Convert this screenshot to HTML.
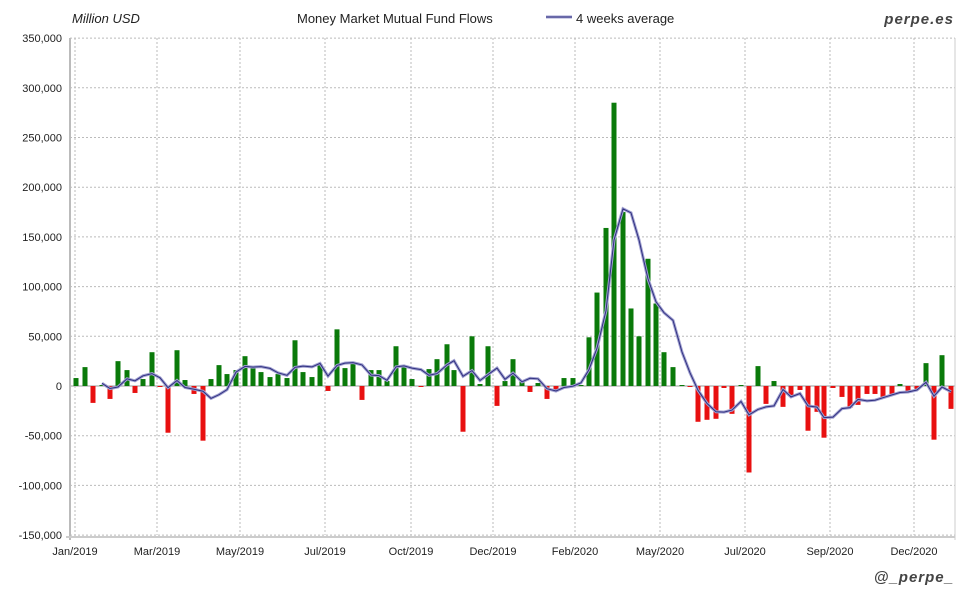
<!DOCTYPE html>
<html><head><meta charset="utf-8"><style>
body{margin:0;background:#fff;}
svg text{font-family:"Liberation Sans",sans-serif;}
</style></head><body>
<svg id="c" width="980" height="600" xmlns="http://www.w3.org/2000/svg">
<rect width="980" height="600" fill="#fff"/>
<text x="72" y="23" font-size="13" font-style="italic" fill="#222">Million USD</text>
<text x="297" y="23" font-size="13" fill="#222">Money Market Mutual Fund Flows</text>
<line x1="546" y1="17" x2="572" y2="17" stroke="#a0a0d0" stroke-width="3"/>
<line x1="546" y1="17" x2="572" y2="17" stroke="#303080" stroke-width="1"/>
<text x="576" y="23" font-size="13" fill="#222">4 weeks average</text>
<text x="954" y="24" font-size="15" font-style="italic" font-weight="bold" fill="#444" text-anchor="end" letter-spacing="1">perpe.es</text>
<text x="954" y="582" font-size="15" font-style="italic" font-weight="bold" fill="#444" text-anchor="end" letter-spacing="1">@_perpe_</text>
<g id="g"></g>
</svg>
<script>
var g=document.getElementById('g'),s='';
function Y(v){return 386-v*0.994;}
for(var v=-150;v<=350;v+=50){var y=Y(v);
 s+='<line x1="70" x2="955" y1="'+y+'" y2="'+y+'" stroke="'+(v==0?'#999':'#bbb')+'" stroke-width="1" '+(v==0?'':'stroke-dasharray="2,2"')+'/>';
 var t=v==0?'0':(v<0?'-':'')+Math.abs(v)+',000';
 s+='<text x="62" y="'+(y+4)+'" font-size="11" text-anchor="end" fill="#222">'+t+'</text>';}
var xl=[[75,'Jan/2019'],[157,'Mar/2019'],[240,'May/2019'],[325,'Jul/2019'],[411,'Oct/2019'],[493,'Dec/2019'],[575,'Feb/2020'],[660,'May/2020'],[745,'Jul/2020'],[830,'Sep/2020'],[914,'Dec/2020']];
xl.forEach(function(a){s+='<line x1="'+a[0]+'" x2="'+a[0]+'" y1="38" y2="535" stroke="#bbb" stroke-dasharray="2,2"/>';
 s+='<text x="'+a[0]+'" y="555" font-size="11" text-anchor="middle" fill="#222">'+a[1]+'</text>';});
s+='<line x1="70" x2="70" y1="38" y2="540" stroke="#bbb" stroke-width="2"/>';
s+='<line x1="955" x2="955" y1="38" y2="540" stroke="#ccc"/>';
s+='<line x1="66" x2="955" y1="537" y2="537" stroke="#ccc" stroke-width="2"/>';
var d=[76,8,85,19,93,-17,102,1,110,-13,118,25,127,16,135,-7,143,7,152,34,160,-1,168,-47,177,36,185,6,194,-8,203,-55,211,7,219,21,227,12,236,16,245,30,253,18,261,14,270,9,278,12,287,8,295,46,303,14,312,9,320,22,328,-5,337,57,345,18,353,24,362,-14,371,16,379,16,387,5,396,40,404,20,412,7,421,-1,429,17,437,27,447,42,454,16,463,-46,472,50,480,2,488,40,497,-20,505,5,513,27,522,5,530,-6,538,3,547,-13,556,-4,564,8,573,8,581,1,589,49,597,94,606,159,614,285,623,175,631,78,639,50,648,128,656,83,664,34,673,19,682,1,690,-1,698,-36,707,-34,716,-33,724,-2,732,-28,741,1,749,-87,758,20,766,-18,774,5,783,-21,791,-10,800,-4,808,-45,817,-26,824,-52,833,-2,842,-11,850,-22,858,-19,867,-8,875,-8,883,-12,892,-8,900,2,908,-6,917,-4,926,23,934,-54,942,31,951,-23];
var xs=[],vs=[];
for(var i=0;i<d.length;i+=2){xs.push(d[i]);vs.push(d[i+1]);}
for(var i=0;i<xs.length;i++){var v=vs[i],y0=Y(0),y1=Y(v);
 s+='<rect x="'+(xs[i]-2.5)+'" y="'+Math.min(y0,y1)+'" width="5" height="'+Math.max(1,Math.abs(y1-y0))+'" fill="'+(v>=0?'#0a7a0a':'#e81010')+'"/>';}
var p='';
for(var i=3;i<xs.length;i++){var a=(vs[i]+vs[i-1]+vs[i-2]+vs[i-3])/4;p+=(i==3?'M':'L')+xs[i]+','+Y(a).toFixed(1);}
s+='<path d="'+p+'" fill="none" stroke="#a0a0d0" stroke-width="3"/>';
s+='<path d="'+p+'" fill="none" stroke="#303080" stroke-width="1"/>';
g.innerHTML=s;
</script>
</body></html>
